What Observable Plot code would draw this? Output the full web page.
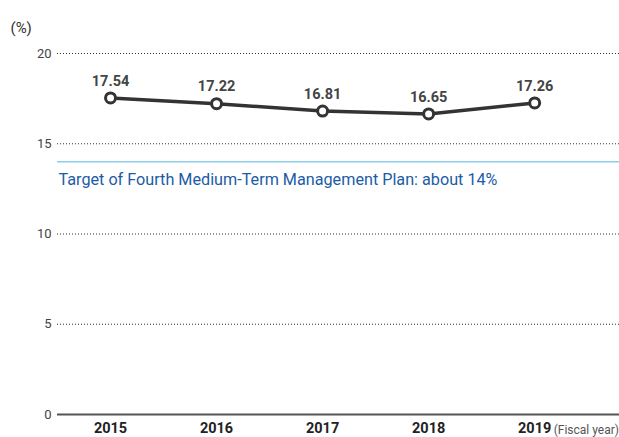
<!DOCTYPE html>
<html><head><meta charset="utf-8">
<script src="https://cdn.jsdelivr.net/npm/d3@7"></script>
<script src="https://cdn.jsdelivr.net/npm/@observablehq/plot@0.6"></script>
<style>
html,body{margin:0;padding:0;background:#fff;}
svg{display:block;}
</style>
</head><body>
<div id="chart"></div>
<script>
const years = [2015, 2016, 2017, 2018, 2019];
const ratios = [17.54, 17.22, 16.81, 16.65, 17.26];
const yTicks = [0, 5, 10, 15, 20];
const target = 14;
const targetLabel = "Target of Fourth Medium-Term Management Plan: about 14%";
const unitLabel = "(%)";
const xUnitLabel = "(Fiscal year)";

const data = years.map((y, i) => ({year: y, value: ratios[i]}));
const font = "Roboto, 'Liberation Sans', Arial, sans-serif";

const chart = Plot.plot({
  width: 619,
  height: 437,
  marginLeft: 57,
  marginRight: 0,
  marginTop: 53,
  marginBottom: 23,
  style: {fontFamily: font, background: "#fff"},
  x: {type: "linear", domain: [2014.5, 2019.8], axis: null},
  y: {domain: [0, 20], axis: null},
  marks: [
    Plot.ruleY(yTicks.filter(d => d > 0), {stroke: "#333", strokeWidth: 1, strokeDasharray: "1,2"}),
    Plot.ruleY([0], {stroke: "#555", strokeWidth: 2}),
    Plot.ruleY([target], {stroke: "#8dcdee", strokeWidth: 1.5}),
    Plot.text([targetLabel], {frameAnchor: "left", y: () => target, text: d => d, textAnchor: "start", dx: 1, dy: 18, fill: "#1c5ca6", fontSize: 16.2}),
    Plot.axisY({ticks: yTicks, tickSize: 0, tickPadding: 6, fontSize: 13, color: "#444", label: null}),
    Plot.text([unitLabel], {frameAnchor: "top-left", text: d => d, dx: -47, dy: -31, textAnchor: "start", fontSize: 15, fill: "#333"}),
    Plot.axisX({ticks: years, tickFormat: d => String(d), tickSize: 0, tickPadding: 8, fontSize: 14.5, fontWeight: "bold", color: "#222", label: null}),
    Plot.text([years[years.length - 1]], {x: d => d, y: () => 0, text: () => xUnitLabel, textAnchor: "start", dx: 19, dy: 16, fontSize: 12, fill: "#555"}),
    Plot.line(data, {x: "year", y: "value", stroke: "#333", strokeWidth: 3.5}),
    Plot.dot(data, {x: "year", y: "value", r: 5, fill: "#fff", stroke: "#333", strokeWidth: 3}),
    Plot.text(data, {x: "year", y: "value", text: d => d.value.toFixed(2), dy: -17, fontSize: 14.5, fontWeight: "bold", fill: "#444"})
  ]
});
document.getElementById("chart").appendChild(chart);
</script>
</body></html>
